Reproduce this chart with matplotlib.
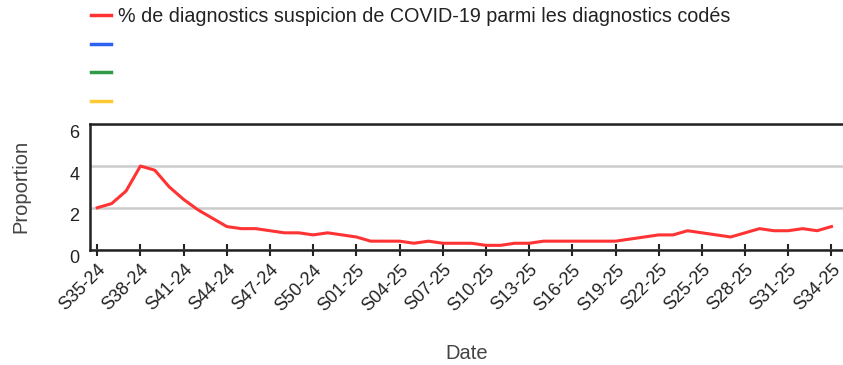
import matplotlib
matplotlib.use("Agg")
import matplotlib.pyplot as plt
import matplotlib.transforms as mtransforms
from matplotlib.lines import Line2D

plt.rcParams['font.family'] = ['Liberation Sans', 'DejaVu Sans']

# weekly share of COVID-19 suspicion diagnoses (%)
weeks = (['S%02d-24' % w for w in range(35, 53)] +
         ['S%02d-25' % w for w in range(1, 35)])
covid_pct = [2.0, 2.2, 2.8, 4.0, 3.8, 3.0, 2.4, 1.9, 1.5, 1.1,
             1.0, 1.0, 0.9, 0.8, 0.8, 0.7, 0.8, 0.7, 0.6, 0.4,
             0.4, 0.4, 0.3, 0.4, 0.3, 0.3, 0.3, 0.2, 0.2, 0.3,
             0.3, 0.4, 0.4, 0.4, 0.4, 0.4, 0.4, 0.5, 0.6, 0.7,
             0.7, 0.9, 0.8, 0.7, 0.6, 0.8, 1.0, 0.9, 0.9, 1.0,
             0.9, 1.1]

legend_labels = ['% de diagnostics suspicion de COVID-19 parmi les diagnostics codés',
                 ' ', ' ', ' ']
colors = ['#ff3333', '#2d62f0', '#2f9a48', '#ffc933']

fig = plt.figure(figsize=(8.43, 3.65), dpi=100)
ax = fig.add_axes([0.1068, 0.3164, 0.8932, 0.3431])

x = list(range(len(weeks)))
ax.plot(x, covid_pct, color=colors[0], lw=2.2, solid_joinstyle='round')

ax.set_xlim(-0.5, 51.8)
ax.set_ylim(0, 6)
ax.set_yticks([0, 2, 4, 6])
ax.set_xticks(x[::3])
ax.set_xticklabels(weeks[::3], rotation=45, ha='right', rotation_mode='anchor')

ax.grid(axis='y', color='#cccccc', lw=1.8)
ax.set_axisbelow(True)
for side in ['top', 'left', 'bottom']:
    ax.spines[side].set_linewidth(1.8)
    ax.spines[side].set_color('#222222')
ax.spines['right'].set_visible(False)

ax.tick_params(axis='y', length=0, pad=7.5, labelsize=13, labelcolor='#222222')
ax.tick_params(axis='x', direction='inout', length=9, width=1.5,
               color='#222222', pad=4, labelsize=13, labelcolor='#222222')

# y labels sit a bit under their gridline
offset = mtransforms.ScaledTranslation(0, -7 / 100, fig.dpi_scale_trans)
for lab in ax.get_yticklabels():
    lab.set_transform(lab.get_transform() + offset)

ax.set_ylabel('Proportion', fontsize=14.5, color='#444444', labelpad=28)
ax.set_xlabel('Date', fontsize=14.5, color='#444444', labelpad=21)

handles = [Line2D([], [], color=c, lw=2.5) for c in colors]
ax.legend(handles, legend_labels, loc='upper left',
          bbox_to_anchor=(91 / 843, 1 - 7 / 365), bbox_transform=fig.transFigure,
          frameon=False, fontsize=14.2, handlelength=1.02, handletextpad=0.36,
          labelspacing=0.49, borderpad=0, borderaxespad=0, labelcolor='#222222')

fig.savefig('out.png', dpi=100)
